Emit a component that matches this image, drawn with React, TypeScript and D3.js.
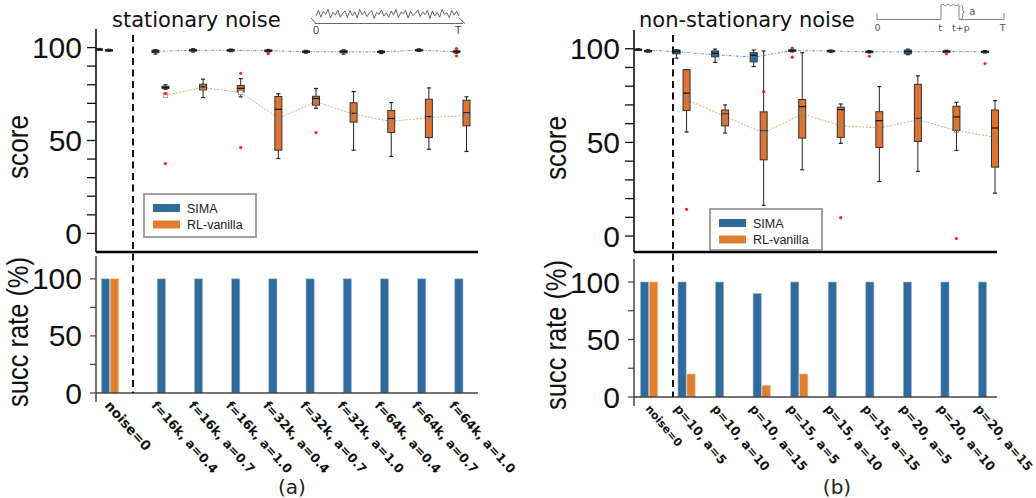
import React from 'react';
import * as d3 from 'd3';

// ---------------- DATA ----------------
const leftCategories = ['noise=0', 'f=16k, a=0.4', 'f=16k, a=0.7', 'f=16k, a=1.0', 'f=32k, a=0.4', 'f=32k, a=0.7', 'f=32k, a=1.0', 'f=64k, a=0.4', 'f=64k, a=0.7', 'f=64k, a=1.0'];
const leftPositions = [0, 1.5, 2.5, 3.5, 4.5, 5.5, 6.5, 7.5, 8.5, 9.5];
const rightCategories = ['noise=0', 'p=10, a=5', 'p=10, a=10', 'p=10, a=15', 'p=15, a=5', 'p=15, a=10', 'p=15, a=15', 'p=20, a=5', 'p=20, a=10', 'p=20, a=15'];
const rightPositions = [0, 1, 2, 3, 4, 5, 6, 7, 8, 9];

// box stats: [whiskerLow, q1, median, q3, whiskerHigh, mean]
const leftSimaBoxes = [
  [98.7, 98.9, 99.1, 99.3, 99.5, 99.1],
  [96.5, 97.3, 98.0, 98.6, 98.9, 98.0],
  [97.6, 98.1, 98.6, 99.0, 99.4, 98.5],
  [97.8, 98.2, 98.6, 98.9, 99.2, 98.5],
  [97.6, 98.0, 98.4, 98.7, 99.0, 98.3],
  [97.0, 97.4, 97.8, 98.2, 98.5, 97.8],
  [96.5, 97.2, 97.8, 98.4, 98.8, 97.7],
  [96.8, 97.3, 97.7, 98.1, 98.4, 97.7],
  [98.0, 98.3, 98.6, 99.0, 99.3, 98.6],
  [97.0, 97.4, 97.8, 98.2, 98.6, 97.8],
];
const leftRlBoxes = [
  [98.0, 98.3, 98.6, 98.9, 99.1, 98.6],
  [77.6, 78.0, 78.6, 79.2, 80.0, 74.4],
  [73.1, 77.2, 78.9, 80.3, 83.0, 78.5],
  [73.5, 76.2, 78.1, 79.6, 83.3, 75.8],
  [40.3, 44.8, 66.8, 73.7, 75.1, 62.0],
  [67.4, 69.0, 72.6, 73.8, 78.0, 70.8],
  [44.8, 59.9, 64.7, 70.3, 76.3, 64.2],
  [41.4, 54.3, 61.8, 66.1, 70.4, 60.2],
  [45.3, 51.6, 62.9, 72.2, 78.3, 62.4],
  [44.1, 57.9, 64.9, 71.7, 73.5, 63.3],
];
// outliers: [categoryIndex, value]
const leftSimaOutliers = [[4, 96.8], [9, 99.5], [9, 95.5]];
const leftRlOutliers = [[1, 37.6], [1, 75.3], [3, 86.2], [3, 46.2], [5, 54.3]];

const rightSimaBoxes = [
  [99.2, 99.4, 99.6, 99.8, 100.0, 99.6],
  [95.0, 97.3, 98.5, 99.3, 99.5, 98.4],
  [92.7, 95.7, 97.5, 98.8, 99.8, 96.8],
  [90.5, 93.0, 96.5, 97.9, 99.3, 95.5],
  [98.3, 98.6, 99.0, 99.4, 99.7, 99.0],
  [98.2, 98.5, 98.8, 99.1, 99.3, 98.8],
  [97.8, 98.1, 98.4, 98.7, 99.0, 98.4],
  [96.8, 97.3, 98.5, 99.3, 99.8, 98.3],
  [98.0, 98.3, 98.6, 98.9, 99.2, 98.6],
  [97.8, 98.1, 98.4, 98.7, 99.0, 98.4],
];
const rightRlBoxes = [
  [98.2, 98.5, 98.8, 99.1, 99.4, 98.8],
  [55.5, 67.0, 76.3, 88.8, 88.8, 72.9],
  [55.0, 58.8, 65.2, 67.3, 70.0, 63.9],
  [16.4, 40.7, 56.3, 66.3, 98.8, 55.0],
  [35.4, 52.3, 69.1, 72.9, 97.9, 65.2],
  [49.5, 52.7, 67.5, 68.8, 70.5, 58.9],
  [29.1, 47.3, 61.6, 66.4, 79.8, 57.7],
  [34.5, 50.5, 63.0, 81.0, 85.5, 62.1],
  [45.7, 56.4, 63.6, 69.3, 71.4, 56.4],
  [22.9, 36.8, 57.7, 67.3, 72.3, 52.7],
];
const rightSimaOutliers = [[4, 100.4], [4, 95.5], [6, 96.0], [8, 97.3], [9, 92.1]];
const rightRlOutliers = [[1, 14.3], [3, 77.1], [5, 9.8], [8, -1.3]];

// success rates (%)
const leftSimaSucc = [100, 100, 100, 100, 100, 100, 100, 100, 100, 100];
const leftRlSucc = [100, 0, 0, 0, 0, 0, 0, 0, 0, 0];
const rightSimaSucc = [100, 100, 100, 90, 100, 100, 100, 100, 100, 100];
const rightRlSucc = [100, 20, 0, 10, 20, 0, 0, 0, 0, 0];

const scoreTicks = [0, 10, 20, 30, 40, 50, 60, 70, 80, 90, 100];
const scoreTickLabels = [0, 50, 100];
const succTicks = [0, 25, 50, 75, 100];
const succTickLabels = [0, 50, 100];
const seriesNames = ['SIMA', 'RL-vanilla'];

// inset illustrations
const stationaryWave = [0.3, 0.9, 0.2, 0.8, 0.5, 1, 0.1, 0.7, 0.4, 0.95, 0.2, 0.6, 0.85, 0.15, 0.9, 0.35, 0.75, 0.1, 1, 0.45, 0.8, 0.25, 0.6, 0.9, 0.05, 0.7, 0.5, 0.95, 0.3, 0.65, 0.2, 0.85, 0.4, 1, 0.15, 0.7, 0.55, 0.9, 0.1, 0.8, 0.35, 0.6, 0.95, 0.25, 0.75, 0.45, 0.9, 0.05, 0.85, 0.3, 0.7, 0.2, 1, 0.5, 0.65, 0.15, 0.9, 0.4, 0.8, 0.3];
const stepShape = [[0, 0], [0.504, 0], [0.504, 1], [0.52, 1.05], [0.54, 0.95], [0.56, 1.06], [0.58, 0.94], [0.6, 1.05], [0.62, 0.95], [0.64, 1.02], [0.646, 1], [0.646, 0], [1, 0]];
const stepLabels = [['0', 0.005], ['t', 0.497], ['t+p', 0.66], ['T', 0.99]];

// ---------------- STYLE ----------------
const BLUE = '#2f6b9c';
const ORANGE = '#e07f2e';
const BOX_ORANGE = '#de7430';
const NUM_FONT = '"Liberation Sans", Arial, sans-serif';
const TXT_FONT = '"DejaVu Sans", sans-serif';

type Layout = {
  axisX: number; axisEnd: number; topRange: [number, number]; scoreDomain: [number, number];
  succRange: [number, number]; dashX: number; topX: [number, number]; botX: [number, number];
  posDomain: [number, number]; labelDx: number; labelY: number; labelRot: number; labelSize: number;
  noiseLabelDx: number; noiseLabelSize: number;
  title: string; titleX: number; caption: string; captionX: number; yTitleX: number;
  scoreTitleY: number; succTitleY: number; legend: { x: number; y: number; w: number; h: number };
  blueLineFrom: number;
};

function BoxMark({ x, s, y, w, fill }: any) {
  const [lo, q1, med, q3, hi] = s;
  const cap = 4;
  return (
    <g>
      <line x1={x} x2={x} y1={y(hi)} y2={y(q3)} stroke="#222" strokeWidth={1} />
      <line x1={x} x2={x} y1={y(q1)} y2={y(lo)} stroke="#222" strokeWidth={1} />
      <line x1={x - cap / 2} x2={x + cap / 2} y1={y(hi)} y2={y(hi)} stroke="#222" strokeWidth={1.2} />
      <line x1={x - cap / 2} x2={x + cap / 2} y1={y(lo)} y2={y(lo)} stroke="#222" strokeWidth={1.2} />
      <rect x={x - w / 2} y={y(q3)} width={w} height={Math.max(1.5, y(q1) - y(q3))} fill={fill} stroke="#333" strokeWidth={1} />
      <line x1={x - w / 2} x2={x + w / 2} y1={y(med)} y2={y(med)} stroke="#111" strokeWidth={1.2} />
    </g>
  );
}

function Panel({ L, cats, pos, simaBoxes, rlBoxes, simaOut, rlOut, simaSucc, rlSucc }: any) {
  const lay: Layout = L;
  const yS = d3.scaleLinear().domain(lay.scoreDomain).range(lay.topRange);
  const yB = d3.scaleLinear().domain([0, 120]).range(lay.succRange);
  const xT = d3.scaleLinear().domain(lay.posDomain).range(lay.topX);
  const xB = d3.scaleLinear().domain(lay.posDomain).range(lay.botX);
  const simaX = (i: number) => xT(pos[i]) - 5;
  const rlX = (i: number) => xT(pos[i]) + 5;
  const rlLine = d3.line<number[]>().x((_, i) => rlX(i + 1)).y(d => yS(d[5]))(rlBoxes.slice(1));
  const simaLine = d3.line<number[]>().x((_, i) => simaX(i + lay.blueLineFrom)).y(d => yS(d[5]))(simaBoxes.slice(lay.blueLineFrom));
  const zeroB = yB(0);
  const barW = 8.2;
  return (
    <g>
      {/* title */}
      <text x={lay.titleX} y={27} fontFamily={TXT_FONT} fontSize={21} fill="#111">{lay.title}</text>
      {/* y axis top */}
      <line x1={lay.axisX} x2={lay.axisX} y1={lay.topRange[1]} y2={lay.topRange[0]} stroke="#111" strokeWidth={1.6} />
      {scoreTicks.map(t => (
        <line key={t} x1={lay.axisX - 9} x2={lay.axisX} y1={yS(t)} y2={yS(t)} stroke="#111" strokeWidth={1.3} />
      ))}
      {scoreTickLabels.map(t => (
        <text key={t} x={lay.axisX - 14} y={yS(t) + 10.5} textAnchor="end" fontFamily={NUM_FONT} fontSize={30} fill="#111">{t}</text>
      ))}
      <text transform={`translate(${lay.yTitleX},${lay.scoreTitleY}) rotate(-90)`} textAnchor="middle" fontFamily={NUM_FONT} fontSize={30} textLength={64} lengthAdjust="spacingAndGlyphs" fill="#111">score</text>
      {/* top panel bottom frame */}
      <line x1={lay.axisX} x2={lay.axisEnd} y1={lay.topRange[0]} y2={lay.topRange[0]} stroke="#000" strokeWidth={2.4} />
      {/* mean lines */}
      <path d={simaLine || ''} fill="none" stroke="#6f93c9" strokeWidth={1} strokeDasharray="3,1.5,1,1.5" />
      <path d={rlLine || ''} fill="none" stroke="#e9a46e" strokeWidth={1} strokeDasharray="2,1.5" />
      {/* boxes */}
      {simaBoxes.map((s: number[], i: number) => (
        <BoxMark key={'s' + i} x={simaX(i)} s={s} y={yS} w={7} fill={BLUE} />
      ))}
      {rlBoxes.map((s: number[], i: number) => (
        <BoxMark key={'r' + i} x={rlX(i)} s={s} y={yS} w={7} fill={BOX_ORANGE} />
      ))}
      {/* means */}
      {rlBoxes.map((s: number[], i: number) => i > 0 ? (
        <rect key={'rm' + i} x={rlX(i) - 2.2} y={yS(s[5]) - 2.2} width={4.4} height={4.4} fill={s[5] < s[1] ? '#fff' : 'none'} stroke="#a08070" strokeWidth={0.8} />
      ) : null)}
      {/* outliers */}
      {simaOut.map((o: number[], k: number) => (
        <circle key={'so' + k} cx={simaX(o[0])} cy={yS(o[1])} r={1.6} fill="#ff1f1f" />
      ))}
      {rlOut.map((o: number[], k: number) => (
        <circle key={'ro' + k} cx={rlX(o[0])} cy={yS(o[1])} r={1.6} fill="#ff1f1f" />
      ))}
      {/* legend */}
      <g>
        <rect x={lay.legend.x} y={lay.legend.y} width={lay.legend.w} height={lay.legend.h} fill="#fff" stroke="#8a8a8a" strokeWidth={1.6} />
        {seriesNames.map((n, k) => (
          <g key={n}>
            <rect x={lay.legend.x + 9} y={lay.legend.y + 10 + k * 16.5} width={27} height={8} fill={k === 0 ? BLUE : ORANGE} />
            <text x={lay.legend.x + 43} y={lay.legend.y + 18.5 + k * 16.5} fontFamily={NUM_FONT} fontSize={12.5} fill="#222">{n}</text>
          </g>
        ))}
      </g>
      {/* bottom panel */}
      <line x1={lay.axisX} x2={lay.axisX} y1={lay.succRange[1]} y2={zeroB + 9} stroke="#444" strokeWidth={1.5} />
      {succTicks.map(t => (
        <line key={t} x1={lay.axisX - 6} x2={lay.axisX} y1={yB(t)} y2={yB(t)} stroke="#444" strokeWidth={1.2} />
      ))}
      {succTickLabels.map(t => (
        <text key={t} x={lay.axisX - 14} y={yB(t) + 10.5} textAnchor="end" fontFamily={NUM_FONT} fontSize={30} fill="#111">{t}</text>
      ))}
      <text transform={`translate(${lay.yTitleX},${lay.succTitleY}) rotate(-90)`} textAnchor="middle" fontFamily={NUM_FONT} fontSize={30} textLength={150} lengthAdjust="spacingAndGlyphs" fill="#111">succ rate (%)</text>
      {simaSucc.map((v: number, i: number) => (
        <rect key={'sb' + i} x={xB(pos[i]) - barW - 0.4} y={yB(v)} width={barW} height={zeroB - yB(v)} fill={BLUE} stroke="#9dbbd6" strokeWidth={0.6} />
      ))}
      {rlSucc.map((v: number, i: number) => v > 0 ? (
        <rect key={'rb' + i} x={xB(pos[i]) + 0.4} y={yB(v)} width={barW} height={zeroB - yB(v)} fill={ORANGE} stroke="#f0b98a" strokeWidth={0.6} />
      ) : null)}
      <line x1={lay.axisX} x2={lay.axisEnd} y1={zeroB} y2={zeroB} stroke="#444" strokeWidth={1.5} />
      {/* dashed separator */}
      <line x1={lay.dashX} x2={lay.dashX} y1={35} y2={zeroB} stroke="#111" strokeWidth={2} strokeDasharray="7,4.5" />
      {/* x labels */}
      {cats.map((c: string, i: number) => (
        <text key={c} transform={`translate(${xB(pos[i]) + (i === 0 ? lay.noiseLabelDx : lay.labelDx)},${lay.labelY}) rotate(${lay.labelRot})`} fontFamily={TXT_FONT} fontWeight="bold" fontSize={i === 0 ? lay.noiseLabelSize : lay.labelSize} fill="#111">{c}</text>
      ))}
      <text x={lay.captionX} y={494} textAnchor="middle" fontFamily={TXT_FONT} fontSize={20} fill="#222">{lay.caption}</text>
    </g>
  );
}

function StationaryInset() {
  const x = d3.scaleLinear().domain([0, stationaryWave.length - 1]).range([316, 459]);
  const y = d3.scaleLinear().domain([0, 1]).range([19, 9.5]);
  const path = d3.line<number>().x((_, i) => x(i)).y(d => y(d))(stationaryWave) || '';
  return (
    <g stroke="#555" fill="none" strokeWidth={0.9}>
      <path d={path} />
      <line x1={311} y1={18} x2={316} y2={23.5} />
      <line x1={459} y1={18} x2={465} y2={23.5} />
      <line x1={315} x2={463} y1={23.5} y2={23.5} />
      <text x={316} y={34} fontFamily={NUM_FONT} fontSize={11} fill="#444" stroke="none" textAnchor="middle">0</text>
      <text x={458} y={34} fontFamily={NUM_FONT} fontSize={11} fill="#444" stroke="none" textAnchor="middle">T</text>
    </g>
  );
}

function StepInset() {
  const x = d3.scaleLinear().domain([0, 1]).range([877, 1004]);
  const y = d3.scaleLinear().domain([0, 1]).range([19.5, 5]);
  const path = d3.line<number[]>().x(d => x(d[0])).y(d => y(d[1]))(stepShape) || '';
  return (
    <g stroke="#777" fill="none" strokeWidth={0.9}>
      <path d={path} />
      <line x1={x(0)} x2={x(0)} y1={13} y2={19.5} />
      <line x1={x(1)} x2={x(1)} y1={13} y2={19.5} />
      <path d={`M${x(0.66)},5 q2,0 2,3 v3 l1.5,1 l-1.5,1 v3 q0,3 -2,3`} />
      <text x={x(0.75)} y={15} fontFamily={TXT_FONT} fontSize={10} fill="#555" stroke="none" textAnchor="middle">a</text>
      {stepLabels.map(([t, p]) => (
        <text key={t as string} x={x(p as number)} y={31} fontFamily={TXT_FONT} fontSize={9.5} fill="#555" stroke="none" textAnchor="middle">{t}</text>
      ))}
    </g>
  );
}

const leftLayout: Layout = {
  axisX: 96, axisEnd: 478, topRange: [252, 29], scoreDomain: [-10, 110], succRange: [393, 256],
  dashX: 133, topX: [104, 461.5], botX: [110, 463.4], posDomain: [0, 9.5], labelDx: -15, labelY: 406,
  labelRot: 48, labelSize: 12.5, noiseLabelDx: -6, noiseLabelSize: 13.5,
  title: 'stationary noise', titleX: 112, caption: '(a)', captionX: 292,
  yTitleX: 28, scoreTitleY: 147, succTitleY: 332, legend: { x: 144, y: 194, w: 112, h: 43 }, blueLineFrom: 1,
};
const rightLayout: Layout = {
  axisX: 634, axisEnd: 997, topRange: [252, 30], scoreDomain: [-8.5, 110], succRange: [397, 259],
  dashX: 673, topX: [643, 990], botX: [649, 987], posDomain: [0, 9], labelDx: -13, labelY: 409,
  labelRot: 50, labelSize: 12.5, noiseLabelDx: -4, noiseLabelSize: 11,
  title: 'non-stationary noise', titleX: 639, caption: '(b)', captionX: 837,
  yTitleX: 566, scoreTitleY: 148, succTitleY: 335, legend: { x: 710, y: 209, w: 112, h: 41 }, blueLineFrom: 0,
};

export default function App() {
  return (
    <svg width={1036} height={498} style={{ position: 'absolute', left: 0, top: 0, background: '#fff' }}>
      <rect width={1036} height={498} fill="#fff" />
      <Panel L={leftLayout} cats={leftCategories} pos={leftPositions} simaBoxes={leftSimaBoxes} rlBoxes={leftRlBoxes}
        simaOut={leftSimaOutliers} rlOut={leftRlOutliers} simaSucc={leftSimaSucc} rlSucc={leftRlSucc} />
      <Panel L={rightLayout} cats={rightCategories} pos={rightPositions} simaBoxes={rightSimaBoxes} rlBoxes={rightRlBoxes}
        simaOut={rightSimaOutliers} rlOut={rightRlOutliers} simaSucc={rightSimaSucc} rlSucc={rightRlSucc} />
      <StationaryInset />
      <StepInset />
    </svg>
  );
}
